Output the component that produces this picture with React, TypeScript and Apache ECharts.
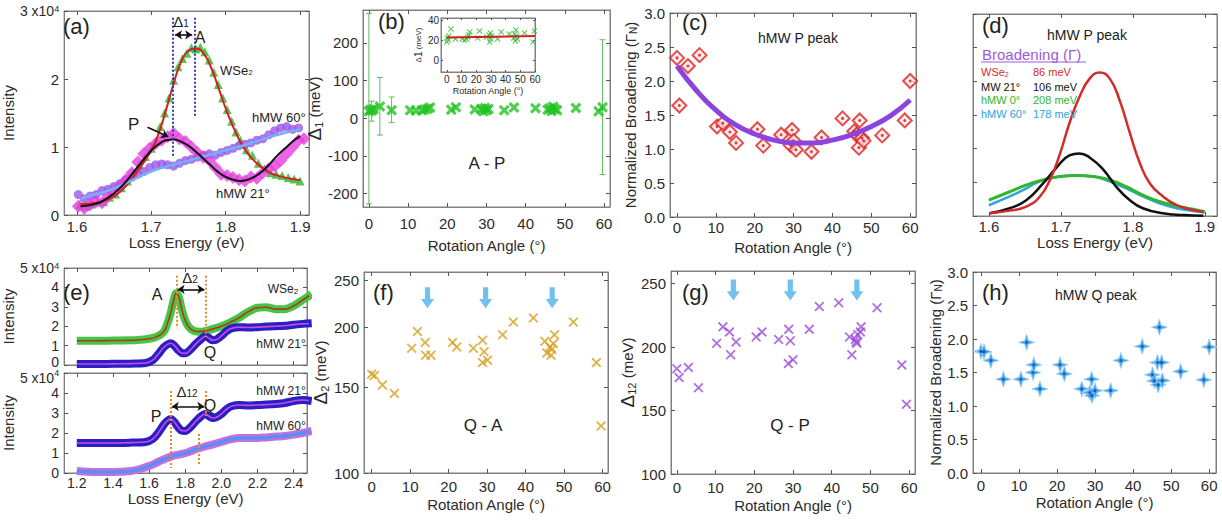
import React, { useEffect, useRef } from "react";
import * as echarts from "echarts";

/* ---------------- tick labels ---------------- */
const eVTicksA = [1.6, 1.7, 1.8, 1.9];
const eVTicksE = [1.2, 1.4, 1.6, 1.8, 2.0, 2.2, 2.4];
const angleTicks = [0, 10, 20, 30, 40, 50, 60];
const intensityTicksA = [0, 1, 2, 3];
const intensityTicksE = [0, 1, 2, 3, 4, 5];
const delta1Ticks = [-200, -100, 0, 100, 200];
const insetTicksY = [0, 20, 40];
const broadeningTicks = [0, 0.5, 1, 1.5, 2, 2.5, 3];
const deltaTicks = [100, 150, 200, 250];
const dTicksY = [0, 1, 2, 3, 4, 5, 6];

/* ---------------- (a) spectra, intensity x10^4 ---------------- */
const aWse2Points = [[1.604,0.15],[1.612,0.13],[1.62,0.16],[1.628,0.19],[1.636,0.2],[1.644,0.26],[1.652,0.31],[1.66,0.4],[1.668,0.5],[1.676,0.62],[1.684,0.74],[1.692,0.86],[1.7,0.98],[1.706,1.08],[1.712,1.3],[1.718,1.5],[1.724,1.72],[1.73,1.98],[1.736,2.18],[1.742,2.3],[1.748,2.38],[1.754,2.46],[1.76,2.44],[1.766,2.47],[1.772,2.4],[1.778,2.28],[1.784,2.1],[1.79,1.92],[1.796,1.72],[1.802,1.55],[1.808,1.38],[1.814,1.22],[1.82,1.1],[1.828,0.96],[1.836,0.88],[1.844,0.76],[1.852,0.68],[1.86,0.62],[1.868,0.6],[1.876,0.58],[1.884,0.55],[1.892,0.53],[1.9,0.5]];
const aWse2Fit = [[1.605,0.16],[1.62,0.17],[1.64,0.22],[1.66,0.36],[1.68,0.62],[1.7,0.95],[1.71,1.2],[1.72,1.55],[1.73,1.93],[1.74,2.25],[1.75,2.42],[1.76,2.45],[1.77,2.38],[1.78,2.18],[1.79,1.88],[1.8,1.57],[1.81,1.3],[1.82,1.07],[1.83,0.9],[1.84,0.78],[1.85,0.69],[1.86,0.62],[1.87,0.58],[1.88,0.55],[1.89,0.53],[1.9,0.51]];
const aMw21Points = [[1.602,0.13],[1.61,0.1],[1.618,0.15],[1.626,0.2],[1.634,0.18],[1.642,0.28],[1.65,0.34],[1.658,0.42],[1.666,0.52],[1.674,0.62],[1.682,0.78],[1.69,0.9],[1.698,0.98],[1.706,1.05],[1.714,1.1],[1.722,1.15],[1.73,1.2],[1.738,1.12],[1.746,1.08],[1.754,1.0],[1.762,0.92],[1.77,0.85],[1.778,0.8],[1.786,0.7],[1.794,0.6],[1.802,0.58],[1.81,0.55],[1.818,0.52],[1.826,0.5],[1.834,0.56],[1.842,0.54],[1.85,0.62],[1.858,0.68],[1.866,0.72],[1.874,0.8],[1.882,0.9],[1.89,1.0],[1.898,1.1],[1.905,1.12]];
const aMw21Fit = [[1.605,0.13],[1.62,0.15],[1.64,0.24],[1.66,0.42],[1.68,0.68],[1.7,0.95],[1.71,1.04],[1.72,1.1],[1.73,1.11],[1.74,1.08],[1.75,1.02],[1.76,0.93],[1.77,0.83],[1.78,0.73],[1.79,0.63],[1.8,0.56],[1.81,0.52],[1.82,0.5],[1.83,0.52],[1.84,0.57],[1.85,0.65],[1.86,0.76],[1.87,0.88],[1.88,0.98],[1.89,1.08],[1.9,1.16]];
const aMw60Points = [[1.602,0.3],[1.61,0.24],[1.618,0.28],[1.626,0.3],[1.634,0.36],[1.642,0.38],[1.65,0.42],[1.658,0.46],[1.666,0.52],[1.674,0.56],[1.682,0.6],[1.69,0.64],[1.698,0.7],[1.706,0.74],[1.714,0.75],[1.722,0.74],[1.73,0.72],[1.738,0.76],[1.746,0.8],[1.754,0.82],[1.762,0.85],[1.77,0.88],[1.778,0.9],[1.786,0.88],[1.794,0.92],[1.802,0.95],[1.81,0.98],[1.818,1.02],[1.826,1.04],[1.834,1.06],[1.842,1.1],[1.85,1.12],[1.858,1.18],[1.866,1.24],[1.874,1.28],[1.882,1.3],[1.89,1.26],[1.898,1.28]];
const aMw60Fit = [[1.605,0.24],[1.62,0.29],[1.64,0.35],[1.66,0.44],[1.68,0.54],[1.7,0.64],[1.72,0.71],[1.74,0.77],[1.76,0.83],[1.78,0.89],[1.8,0.95],[1.82,1.01],[1.84,1.08],[1.86,1.15],[1.88,1.21],[1.9,1.26]];
const aPeakP = 1.729;
const aPeakA = 1.758;

/* ---------------- (b) delta1 vs rotation ---------------- */
const rotDelta1 = [[0,18],[0.4,22],[0.8,20],[1.2,24],[2.8,31],[5.8,21],[10.5,21],[12,20],[13.5,21],[14.2,23],[15,25],[15.6,28],[21,22],[22.2,29],[27,23],[28.7,25],[29.2,18],[29.6,27],[30,21],[30.5,24],[34.5,21],[37,28],[42.5,26],[45.6,22],[46.2,26],[46.6,19],[47,30],[47.4,24],[48,21],[52.8,27],[58.6,18],[59.6,29]];
const delta1Err = [[0,-228,278],[0.7,-8,45],[2.8,-45,108],[5.8,-12,56],[59.6,-150,208]];
const delta1Mean = [[0,22.5],[60,24]];

/* ---------------- (c) P peak broadening ---------------- */
const rotGammaP = [[0,2.34],[0.6,1.64],[2.8,2.22],[5.8,2.38],[10.3,1.33],[11.8,1.38],[13.6,1.25],[15.2,1.09],[20.7,1.29],[22.2,1.05],[26.8,1.21],[29.2,1.06],[29.6,1.28],[30,1.12],[30.6,0.99],[34.6,0.96],[37.2,1.17],[42.6,1.45],[45.6,1.26],[46.2,1.21],[46.8,1.02],[47,1.42],[47.6,1.16],[48,1.12],[52.8,1.2],[58.6,1.42],[60,2.0]];
const gammaPFit = [[0,2.22],[5,1.86],[10,1.57],[15,1.36],[20,1.22],[25,1.13],[30,1.09],[35,1.09],[40,1.13],[45,1.21],[50,1.33],[55,1.49],[60,1.72]];

/* ---------------- (d) fitted P peaks ---------------- */
const dWse2 = [[1.601,0.08],[1.629,0.16],[1.652,0.28],[1.671,0.58],[1.685,1.08],[1.699,1.86],[1.712,2.76],[1.726,3.54],[1.74,4.08],[1.754,4.26],[1.768,4.08],[1.782,3.42],[1.796,2.46],[1.81,1.56],[1.824,0.96],[1.842,0.58],[1.861,0.32],[1.879,0.2],[1.898,0.12]];
const dMw21 = [[1.601,0.08],[1.629,0.23],[1.652,0.47],[1.675,0.96],[1.694,1.44],[1.712,1.8],[1.726,1.86],[1.74,1.74],[1.759,1.38],[1.777,0.87],[1.796,0.47],[1.814,0.23],[1.842,0.08],[1.87,0.03],[1.898,0.01]];
const dHmw0 = [[1.6,0.47],[1.629,0.72],[1.652,0.92],[1.675,1.07],[1.699,1.17],[1.722,1.2],[1.745,1.17],[1.768,1.07],[1.791,0.87],[1.814,0.62],[1.837,0.43],[1.861,0.3],[1.884,0.2],[1.9,0.13]];
const dHmw60 = [[1.6,0.32],[1.629,0.58],[1.652,0.82],[1.675,1.07],[1.699,1.17],[1.722,1.2],[1.745,1.17],[1.768,1.02],[1.791,0.82],[1.814,0.58],[1.837,0.38],[1.861,0.23],[1.884,0.15],[1.9,0.1]];
const dLegendNames = ["WSe{s|2}", "MW 21°", "hMW 0°", "hMW 60°"];
const dLegendValues = ["86 meV", "106 meV", "208 meV", "178 meV"];

/* ---------------- (e) wide spectra ---------------- */
const eTopWse2 = [[1.2,1.25],[1.3,1.25],[1.4,1.26],[1.5,1.27],[1.55,1.3],[1.6,1.35],[1.64,1.45],[1.68,1.7],[1.7,2.1],[1.72,2.7],[1.735,3.3],[1.75,3.7],[1.765,3.5],[1.78,2.9],[1.8,2.3],[1.82,1.95],[1.85,1.75],[1.88,1.72],[1.91,1.75],[1.95,1.85],[2.0,2.0],[2.05,2.2],[2.1,2.45],[2.15,2.75],[2.2,2.95],[2.25,2.98],[2.3,2.88],[2.35,2.88],[2.4,3.05],[2.45,3.35],[2.5,3.65]];
const eTopMw21 = [[1.2,0.05],[1.3,0.05],[1.4,0.06],[1.5,0.07],[1.58,0.1],[1.62,0.25],[1.65,0.55],[1.68,0.9],[1.7,1.05],[1.72,1.12],[1.74,1.0],[1.76,0.78],[1.78,0.62],[1.8,0.6],[1.83,0.8],[1.86,1.1],[1.89,1.35],[1.91,1.48],[1.93,1.4],[1.95,1.28],[1.97,1.3],[2.0,1.5],[2.03,1.75],[2.06,1.9],[2.1,1.95],[2.15,1.93],[2.2,1.95],[2.25,1.98],[2.3,2.0],[2.35,2.02],[2.4,2.08],[2.45,2.12],[2.5,2.15]];
const eBotMw21 = [[1.2,1.5],[1.3,1.5],[1.4,1.5],[1.5,1.52],[1.58,1.55],[1.62,1.7],[1.65,2.0],[1.68,2.4],[1.7,2.6],[1.72,2.7],[1.74,2.55],[1.76,2.3],[1.78,2.12],[1.8,2.1],[1.83,2.3],[1.86,2.6],[1.89,2.85],[1.91,2.95],[1.93,2.85],[1.95,2.75],[1.97,2.78],[2.0,2.95],[2.03,3.2],[2.06,3.35],[2.1,3.4],[2.15,3.38],[2.2,3.4],[2.25,3.42],[2.3,3.45],[2.35,3.5],[2.4,3.6],[2.45,3.65],[2.5,3.6]];
const eBotMw60 = [[1.2,0.1],[1.3,0.05],[1.4,0.05],[1.5,0.1],[1.55,0.2],[1.6,0.35],[1.65,0.55],[1.7,0.75],[1.74,0.88],[1.78,0.95],[1.82,1.05],[1.86,1.2],[1.9,1.3],[1.95,1.42],[2.0,1.55],[2.05,1.68],[2.1,1.75],[2.15,1.75],[2.2,1.75],[2.25,1.78],[2.3,1.82],[2.35,1.85],[2.4,1.92],[2.45,2.0],[2.5,2.1]];
const ePeakA = 1.752;
const ePeakQ = 1.912;
const ePeakP = 1.72;
const eShoulder = 1.875;

/* ---------------- (f) (g) (h) ---------------- */
const rotDelta2 = [[0,160],[0.7,159],[2.8,152],[5.9,146],[10.4,181],[11.9,196],[13.9,186],[14,175],[15.4,175],[21,186],[22.1,182],[26.4,181],[28.8,188],[29.2,178],[28.8,169],[30.1,171],[34,193],[36.8,205],[42,209],[45,187],[45.5,177],[46.3,182],[46.6,175],[46.8,180],[47.2,185],[47.5,193],[52.4,205],[58.4,169],[59.6,125]];
const arrowsDelta2 = [[14.5,230],[29.6,230],[46.9,230]];
const rotDelta12 = [[0,183],[0.6,176],[3,184],[5.6,168],[10.3,203],[11.9,216],[13.6,212],[13.9,194],[15.3,204],[20.5,208],[22,212],[26.3,206],[28.9,214],[29.3,205],[28.8,187],[30,190],[34.2,214],[36.8,232],[41.8,235],[44.6,208],[45.2,194],[46.1,206],[46.3,204],[46.5,203],[46.7,210],[47.4,212],[47.6,216],[51.7,231],[58.1,186],[59.3,155]];
const arrowsDelta12 = [[14.6,245],[29.3,245],[46.5,245]];
const rotGammaQ = [[0,1.815],[0.8,1.81],[2.6,1.68],[5.9,1.4],[10.5,1.4],[12,1.95],[13.7,1.5],[13.9,1.615],[15.5,1.255],[20.8,1.615],[21.9,1.48],[26.5,1.255],[28.6,1.2],[29.1,1.4],[29.2,1.155],[30,1.23],[34.1,1.23],[36.8,1.68],[42.4,1.89],[45.1,1.465],[45.6,1.375],[46.4,1.65],[46.6,1.315],[46.9,2.175],[47.5,1.65],[47.7,1.38],[52.5,1.515],[58.6,1.39],[60,1.88]];

/* ---------------- styling ---------------- */
const FONT = "'Liberation Sans', Arial, Helvetica, sans-serif";
const TXT = "#2b2b2b";
const BOX = "#808080";
const X_THICK = "path://M0,2 L2,0 L5,3 L8,0 L10,2 L7,5 L10,8 L8,10 L5,7 L2,10 L0,8 L3,5 Z";
const X_THIN = "path://M0,1.3 L1.3,0 L5,3.7 L8.7,0 L10,1.3 L6.3,5 L10,8.7 L8.7,10 L5,6.3 L1.3,10 L0,8.7 L3.7,5 Z";
const ARROW_DOWN = "path://M3,0 L7,0 L7,9 L10,9 L5,16 L0,9 L3,9 Z";
const STAR4 = "path://M5,0 L6.2,3.8 L10,5 L6.2,6.2 L5,10 L3.8,6.2 L0,5 L3.8,3.8 Z";

const LABEL_RICH = {
  n: { fontSize: 14, color: TXT, fontFamily: FONT },
  sup: { fontSize: 9, color: TXT, fontFamily: FONT, verticalAlign: "top" },
  nt: { fontSize: 14, color: TXT, fontFamily: FONT, padding: [9, 0, 0, 0] },
  supt: { fontSize: 9, color: TXT, fontFamily: FONT, verticalAlign: "top", padding: [7, 0, 0, 0] },
  lo: { fontSize: 14, color: TXT, fontFamily: FONT, padding: [0, 0, 7, 0] },
};
const NAME_RICH = {
  d: { fontSize: 19, color: TXT, fontFamily: FONT },
  ds: { fontSize: 11, color: TXT, fontFamily: FONT, verticalAlign: "bottom" },
  s: { fontSize: 10, color: TXT, fontFamily: FONT, verticalAlign: "bottom" },
};

const f1 = (v: number) => v.toFixed(1);
const plain = (v: number) => String(v);
const log10 = (v: number) => Math.log10(v);

function mkAxis(dim: "x" | "y", gi: number, c: any, mirror: boolean) {
  return {
    type: "value",
    gridIndex: gi,
    min: c.min,
    max: c.max,
    position: dim === "x" ? (mirror ? "top" : "bottom") : mirror ? "right" : "left",
    axisLine: { show: true, onZero: false, lineStyle: { color: BOX, width: 1 } },
    axisTick: {
      show: true,
      inside: true,
      length: c.tickLen ?? 4,
      customValues: c.ticks,
      lineStyle: { color: "#555", width: 1 },
    },
    axisLabel: {
      show: !mirror && !c.noLabels,
      customValues: c.ticks,
      formatter: c.fmt ?? plain,
      margin: c.margin ?? 5,
      color: TXT,
      fontSize: c.fontSize ?? 15,
      fontFamily: FONT,
      rich: LABEL_RICH,
    },
    splitLine: { show: false },
    name: mirror ? "" : c.name ?? "",
    nameLocation: "middle",
    nameGap: c.nameGap ?? 25,
    nameTextStyle: { color: TXT, fontSize: c.nameSize ?? 15, fontFamily: FONT, rich: NAME_RICH },
    silent: true,
  };
}

function txt(x: number, y: number, text: string, size: number, color = "#222", align = "left") {
  return {
    type: "text",
    x,
    y,
    silent: true,
    z: 100,
    style: {
      text,
      fill: color,
      fontSize: size,
      fontFamily: FONT,
      align,
      textAlign: align,
      verticalAlign: "middle",
      textVerticalAlign: "middle",
      rich: {
        s: { fontSize: Math.round(size * 0.65), fill: color, fontFamily: FONT, verticalAlign: "bottom" },
      },
    },
  };
}

function buildOption() {
  const grid: any[] = [];
  const xAxis: any[] = [];
  const yAxis: any[] = [];
  const series: any[] = [];
  const graphic: any[] = [];

  function panel(g: any, xc: any, yc: any) {
    const gi = grid.length;
    grid.push({
      left: g.left,
      top: g.top,
      width: g.width,
      height: g.height,
      show: true,
      borderColor: BOX,
      borderWidth: 1,
      backgroundColor: g.bg ?? "transparent",
      containLabel: false,
    });
    const xi = xAxis.length;
    xAxis.push(mkAxis("x", gi, xc, false), mkAxis("x", gi, xc, true));
    const yi = yAxis.length;
    yAxis.push(mkAxis("y", gi, yc, false), mkAxis("y", gi, yc, true));
    return { xAxisIndex: xi, yAxisIndex: yi };
  }
  const sc = (ax: any, data: any[], symbol: string, size: any, itemStyle: any, extra: any = {}) => ({
    type: "scatter", ...ax, data, symbol, symbolSize: size, itemStyle, silent: true, ...extra,
  });
  const ln = (ax: any, data: any[], color: string, width: number, extra: any = {}) => ({
    type: "line", ...ax, data, showSymbol: false, symbol: "none", smooth: true,
    lineStyle: { color, width }, silent: true, ...extra,
  });
  const ml = (items: any[]) => ({
    silent: true, symbol: ["none", "none"], symbolSize: 7, label: { show: false }, data: items,
  });
  const vline = (x: number, y1: number, y2: number, color: string) => [
    { coord: [x, y1], symbol: "none", lineStyle: { color, type: "dotted", width: 2 } },
    { coord: [x, y2], symbol: "none" },
  ];
  const arrow = (x1: number, y1: number, x2: number, y2: number, both: boolean) => [
    { coord: [x1, y1], symbol: both ? "arrow" : "none", lineStyle: { color: "#111", type: "solid", width: 1.6 } },
    { coord: [x2, y2], symbol: "arrow" },
  ];

  /* ---------- (a) ---------- */
  const A = panel(
    { left: 59, top: 11, width: 250, height: 204 },
    { min: 1.583, max: 1.912, ticks: eVTicksA, fmt: f1, margin: 4, name: "Loss Energy (eV)", nameGap: 19 },
    { min: 0, max: 3, ticks: intensityTicksA, fmt: (v: number) => (v === 3 ? "{n|3 x10}{sup|4}" : String(v)), name: "Intensity", nameGap: 26 }
  );
  series.push(sc(A, aWse2Points, "triangle", 9, { color: "#2db52d" }));
  series.push(sc(A, aMw60Points, "circle", 9, { color: "#9a58ea" }));
  series.push(sc(A, aMw21Points, "diamond", 13, { color: "#e63ce0" }));
  series.push(ln(A, aWse2Fit, "#d42020", 2, {
    markLine: ml([vline(aPeakP, 0.87, 2.92, "#2a3da8"), vline(aPeakA, 1.46, 2.92, "#2a3da8")]),
  }));
  series.push(ln(A, aMw60Fit, "#72b2f6", 2.5));
  series.push(ln(A, aMw21Fit, "#111111", 2, {
    markLine: ml([arrow(aPeakP + 0.003, 2.65, aPeakA - 0.003, 2.65, true), arrow(1.695, 1.29, 1.723, 1.15, false)]),
  }));
  graphic.push(txt(63, 26, "(a)", 22));
  graphic.push(txt(200, 37, "A", 16, "#222", "center"));
  graphic.push(txt(181, 21, "Δ{s|1}", 15, "#222", "center"));
  graphic.push(txt(220, 70, "WSe{s|2}", 13));
  graphic.push(txt(128, 124, "P", 17));
  graphic.push(txt(252, 117, "hMW 60°", 13));
  graphic.push(txt(216, 193, "hMW 21°", 13));

  /* ---------- (b) ---------- */
  const B = panel(
    { left: 363, top: 10, width: 247, height: 197 },
    { min: -1.5, max: 61.5, ticks: angleTicks, margin: 9, name: "Rotation Angle (°)", nameGap: 31 },
    { min: -236, max: 287, ticks: delta1Ticks, name: "{d|Δ}{ds|1} (meV)", nameGap: 29 }
  );
  series.push({
    type: "custom",
    ...B,
    data: delta1Err,
    encode: { x: 0, y: [1, 2] },
    silent: true,
    renderItem: (params: any, api: any) => {
      const x = api.value(0);
      const lo = api.coord([x, api.value(1)]);
      const hi = api.coord([x, api.value(2)]);
      const st = { stroke: "#63b963", lineWidth: 1 };
      return {
        type: "group",
        children: [
          { type: "line", shape: { x1: lo[0], y1: lo[1], x2: hi[0], y2: hi[1] }, style: st },
          { type: "line", shape: { x1: lo[0] - 3, y1: lo[1], x2: lo[0] + 3, y2: lo[1] }, style: st },
          { type: "line", shape: { x1: hi[0] - 3, y1: hi[1], x2: hi[0] + 3, y2: hi[1] }, style: st },
        ],
      };
    },
  });
  series.push(sc(B, rotDelta1, X_THICK, 11, { color: "#22c322" }));
  graphic.push(txt(378, 21, "(b)", 22));
  graphic.push(txt(487, 163, "A - P", 17, "#222", "center"));

  /* ---------- (b) inset ---------- */
  const BI = panel(
    { left: 441, top: 18, width: 94, height: 54, bg: "#ffffff" },
    { min: -4, max: 60, ticks: angleTicks, margin: 2, fontSize: 10, tickLen: 2, name: "Rotation Angle (°)", nameSize: 9, nameGap: 14 },
    { min: -12, max: 42, ticks: insetTicksY, margin: 2, fontSize: 10, tickLen: 2, name: "Δ{s|1} (meV)", nameSize: 8, nameGap: 9 }
  );
  series.push(sc(BI, rotDelta1, X_THIN, 6, { color: "#2fbf2f" }));
  series.push({ type: "line", ...BI, data: delta1Mean, showSymbol: false, symbol: "none", lineStyle: { color: "#d42020", width: 2 }, silent: true });

  /* ---------- (c) ---------- */
  const C = panel(
    { left: 670, top: 13, width: 246, height: 204 },
    { min: -1.8, max: 61.5, ticks: angleTicks, margin: 3, name: "Rotation Angle (°)", nameGap: 23 },
    { min: 0, max: 3, ticks: broadeningTicks, fmt: f1, name: "Normalized Broadening (Γ{s|N})", nameGap: 32 }
  );
  series.push(sc(C, rotGammaP, "diamond", 14, { color: "rgba(255,228,228,0.9)", borderColor: "#e02222", borderWidth: 2 }));
  series.push(sc(C, rotGammaP, "circle", 3, { color: "#c81818" }));
  series.push(ln(C, gammaPFit, "#8c44dc", 5));
  graphic.push(txt(682, 22, "(c)", 22));
  graphic.push(txt(758, 38, "hMW P peak", 14));

  /* ---------- (d) ---------- */
  const D = panel(
    { left: 973, top: 14, width: 244, height: 202 },
    { min: 1.578, max: 1.917, ticks: eVTicksA, fmt: f1, margin: 3, name: "Loss Energy (eV)", nameGap: 13 },
    { min: 0, max: 6, ticks: dTicksY, noLabels: true }
  );
  series.push(ln(D, dHmw60, "#2aa6dc", 2.5));
  series.push(ln(D, dHmw0, "#33b533", 3));
  series.push(ln(D, dMw21, "#111111", 2.5));
  series.push(ln(D, dWse2, "#d42a2a", 2.5));
  graphic.push(txt(982, 25, "(d)", 22));
  graphic.push(txt(1047, 35, "hMW P peak", 14));
  graphic.push(txt(982, 54, "Broadening (Γ)", 15, "#9a5ad8"));
  graphic.push({ type: "line", silent: true, z: 100, shape: { x1: 981, y1: 62, x2: 1086, y2: 62 }, style: { stroke: "#9a5ad8", lineWidth: 1 } });
  const dColors = ["#d42a2a", "#111111", "#2fb52f", "#2aa6dc"];
  const dRowY = [72, 87, 100, 114];
  dLegendNames.forEach((nm, i) => {
    graphic.push(txt(981, dRowY[i], nm, 11, dColors[i]));
    graphic.push(txt(1033, dRowY[i], dLegendValues[i], 11, dColors[i]));
  });

  /* ---------- (e) top ---------- */
  const ET = panel(
    { left: 57, top: 268, width: 250, height: 97 },
    { min: 1.13, max: 2.474, ticks: eVTicksE, noLabels: true },
    { min: 0, max: 5, ticks: intensityTicksE, fontSize: 14, fmt: (v: number) => (v === 5 ? "{n|5 x10}{sup|4}" : v === 0 ? "{lo|0}" : String(v)), name: "Intensity", nameGap: 31 }
  );
  series.push(ln(ET, eTopWse2, "rgba(60,195,60,0.95)", 8, { smooth: 0.3 }));
  series.push(ln(ET, eTopMw21, "#2a1ec4", 8, { smooth: 0.3 }));
  series.push(ln(ET, eTopWse2, "#b0381c", 1.6, {
    markLine: ml([vline(ePeakA, 4.6, 1.9, "#e8892b"), vline(ePeakQ, 4.6, 1.45, "#e8892b"), arrow(ePeakA + 0.006, 3.9, ePeakQ - 0.006, 3.9, true)]),
  }));
  series.push(ln(ET, eTopMw21, "#c64ee0", 1.6));
  graphic.push(txt(63, 292, "(e)", 22));
  graphic.push(txt(157, 294, "A", 16, "#222", "center"));
  graphic.push(txt(190, 277, "Δ{s|2}", 15, "#222", "center"));
  graphic.push(txt(210, 352, "Q", 16, "#222", "center"));
  graphic.push(txt(283, 289, "WSe{s|2}", 12, "#222", "center"));
  graphic.push(txt(281, 344, "hMW 21°", 12, "#222", "center"));

  /* ---------- (e) bottom ---------- */
  const EB = panel(
    { left: 57, top: 373, width: 250, height: 100 },
    { min: 1.13, max: 2.474, ticks: eVTicksE, fmt: f1, fontSize: 14, margin: 3, name: "Loss Energy (eV)", nameGap: 18 },
    { min: 0, max: 5, ticks: intensityTicksE, fontSize: 14, fmt: (v: number) => (v === 5 ? "{nt|5 x10}{supt|4}" : String(v)), name: "Intensity", nameGap: 31 }
  );
  series.push(ln(EB, eBotMw21, "#2a1ec4", 8, { smooth: 0.3 }));
  series.push(ln(EB, eBotMw60, "#c86ee0", 8, { smooth: 0.3 }));
  series.push(ln(EB, eBotMw21, "#c64ee0", 1.6, {
    markLine: ml([vline(ePeakP, 4.1, 0.25, "#e8892b"), vline(ePeakQ, 4.1, 2.85, "#e8892b"), vline(eShoulder, 1.95, 0.35, "#e8892b"), arrow(ePeakP + 0.006, 3.33, ePeakQ - 0.006, 3.33, true)]),
  }));
  series.push(ln(EB, eBotMw60, "#5b8ef2", 3.5));
  graphic.push(txt(187, 391, "Δ{s|12}", 15, "#222", "center"));
  graphic.push(txt(156, 416, "P", 16, "#222", "center"));
  graphic.push(txt(210, 405, "Q", 16, "#222", "center"));
  graphic.push(txt(281, 391, "hMW 21°", 12, "#222", "center"));
  graphic.push(txt(281, 426, "hMW 60°", 12, "#222", "center"));

  /* ---------- (f) log axis ---------- */
  const F = panel(
    { left: 364, top: 272, width: 244, height: 201 },
    { min: -2, max: 61.4, ticks: angleTicks, margin: 6, name: "Rotation Angle (°)", nameGap: 24 },
    { min: log10(100), max: log10(260), ticks: deltaTicks.map(log10), fmt: (v: number) => String(Math.round(Math.pow(10, v))), name: "{d|Δ}{ds|2} (meV)", nameGap: 30 }
  );
  series.push(sc(F, arrowsDelta2.map(([x, y]) => [x, log10(y)]), ARROW_DOWN, [13, 21], { color: "#4cb2e6" }));
  series.push(sc(F, rotDelta2.map(([x, y]) => [x, log10(y)]), X_THIN, 10, { color: "#d6a020" }));
  graphic.push(txt(373, 292, "(f)", 22));
  graphic.push(txt(483, 425, "Q - A", 17, "#222", "center"));

  /* ---------- (g) ---------- */
  const Gp = panel(
    { left: 671, top: 271, width: 244, height: 203 },
    { min: -1.5, max: 61.5, ticks: angleTicks, margin: 6, name: "Rotation Angle (°)", nameGap: 24 },
    { min: 100, max: 260, ticks: deltaTicks, name: "{d|Δ}{ds|12} (meV)", nameGap: 30 }
  );
  series.push(sc(Gp, arrowsDelta12, ARROW_DOWN, [13, 21], { color: "#4cb2e6" }));
  series.push(sc(Gp, rotDelta12, X_THIN, 10, { color: "#9b4fdc" }));
  graphic.push(txt(682, 292, "(g)", 22));
  graphic.push(txt(790, 425, "Q - P", 17, "#222", "center"));

  /* ---------- (h) ---------- */
  const H = panel(
    { left: 973, top: 272, width: 243, height: 201 },
    { min: -2.1, max: 61.8, ticks: angleTicks, margin: 5, name: "Rotation Angle (°)", nameGap: 22 },
    { min: 0, max: 3, ticks: broadeningTicks, fmt: f1, name: "Normalized Broadening (Γ{s|N})", nameGap: 30 }
  );
  series.push(sc(H, rotGammaQ, STAR4, 16, { color: "#2290e6", borderColor: "#9dd2f7", borderWidth: 1 }));
  series.push(sc(H, rotGammaQ, "circle", 3, { color: "#0b4f9c" }));
  graphic.push(txt(982, 292, "(h)", 22));
  graphic.push(txt(1055, 295, "hMW Q peak", 14));

  return {
    animation: false,
    backgroundColor: "#ffffff",
    textStyle: { fontFamily: FONT },
    grid,
    xAxis,
    yAxis,
    series,
    graphic,
  };
}

export default function App() {
  const ref = useRef<HTMLDivElement>(null);
  useEffect(() => {
    const chart = echarts.init(ref.current!, null, { renderer: "svg" });
    chart.setOption(buildOption() as any);
    return () => chart.dispose();
  }, []);
  return (
    <div
      ref={ref}
      style={{ position: "fixed", left: 0, top: 0, width: 1222, height: 521, background: "#fff" }}
    />
  );
}
